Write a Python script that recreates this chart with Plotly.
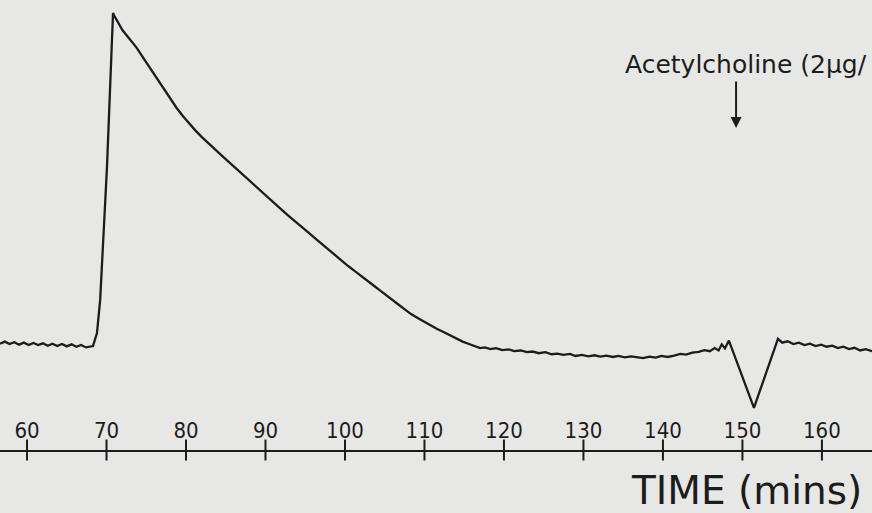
import plotly.graph_objects as go

# Time (mins) and response (% of peak, arbitrary units)
time_min = [
    56.6, 57.2, 57.8, 58.4, 59.0, 59.6, 60.2, 60.8, 61.4, 62.0, 62.6, 63.2,
    63.8, 64.4, 65.0, 65.6, 66.2, 66.8, 67.4, 68.0,
    68.3, 68.8, 69.2, 70.06, 70.82,
    71.0, 71.4, 72.0, 72.6, 73.2, 73.8, 74.5, 75.2, 75.9, 76.6, 77.3, 78.0,
    78.8, 79.6, 80.4, 81.2, 82.0, 82.8, 83.6, 84.4, 85.2, 86.0, 86.8, 87.6,
    88.4, 89.2, 90.0, 90.8, 91.6, 92.4, 93.2, 94.0, 94.8, 95.6, 96.4, 97.2,
    98.0, 98.8, 99.6, 100.4, 101.2, 102.0, 102.8, 103.6, 104.4, 105.2, 106.0,
    106.8, 107.6, 108.4, 109.2, 110.0, 110.8, 111.6, 112.4, 113.2, 114.0,
    114.8, 115.6, 116.4, 117.0, 117.6, 118.3, 119.0, 119.8, 120.6, 121.3,
    122.1, 122.9, 123.6, 124.4, 125.2, 126.0, 126.7, 127.5, 128.3, 129.0,
    129.8, 130.6, 131.4, 132.1, 132.9, 133.7, 134.4, 135.2, 136.0, 136.8,
    137.5, 138.3, 139.1, 139.8, 140.6, 141.4, 142.2, 142.9, 143.7, 144.5,
    145.2, 145.9, 146.5, 147.0, 147.4, 147.8, 148.3,
    151.45, 154.47,
    155.0, 155.7, 156.4, 157.1, 157.8, 158.5, 159.2, 159.9, 160.6, 161.3,
    162.0, 162.7, 163.4, 164.1, 164.8, 165.5, 166.3,
]
response = [
    3.3, 3.9, 3.2, 3.7, 3.0, 3.6, 2.9, 3.5, 2.9, 3.4, 2.7, 3.3,
    2.6, 3.2, 2.5, 3.1, 2.4, 2.9, 2.2, 2.6,
    2.6, 6.4, 16.1, 55.0, 100.0,
    99.1, 97.4, 95.0, 93.3, 91.5, 89.8, 87.3, 84.9, 82.5, 80.0, 77.5, 75.0,
    72.3, 69.9, 67.7, 65.6, 63.7, 61.9, 60.2, 58.5, 56.8, 55.1, 53.4, 51.7,
    50.0, 48.3, 46.6, 44.9, 43.3, 41.7, 40.1, 38.6, 37.0, 35.4, 33.8, 32.2,
    30.7, 29.1, 27.5, 26.0, 24.6, 23.1, 21.8, 20.3, 18.9, 17.4, 15.9,
    14.6, 13.2, 11.8, 10.7, 9.6, 8.6, 7.6, 6.7, 5.7, 4.8,
    3.9, 3.2, 2.5, 2.0, 2.2, 1.7, 2.0, 1.4, 1.6, 1.1,
    1.3, 0.8, 1.0, 0.5, 0.8, 0.2, 0.4, 0.0, 0.3, -0.3,
    0.0, -0.4, -0.1, -0.5, -0.2, -0.6, -0.3, -0.7, -0.4, -0.6,
    -0.9, -0.5, -0.8, -0.3, -0.6, -0.2, 0.3, 0.1, 0.7, 0.9,
    1.4, 1.1, 2.0, 1.3, 3.1, 1.9, 4.2,
    -15.5, 4.7,
    3.6, 4.0, 3.2, 3.6, 2.9, 3.3, 2.6, 3.0, 2.4, 2.7,
    2.0, 2.4, 1.7, 2.1, 1.3, 1.7, 1.1,
]

tick_vals = [60, 70, 80, 90, 100, 110, 120, 130, 140, 150, 160]
tick_text = [str(v) for v in tick_vals]

x_range = [56.6, 166.3]
y_range = [-27.8, 103.8]

x_label = "TIME (mins)"
drug_label = "Acetylcholine (2μg/"
drug_time = 149.2
arrow_tip = 66.4

ink = "#1c1c1c"
paper = "#e7e7e6"
narrow = "DejaVu Sans Condensed, DejaVu Sans, sans-serif"
wide = "DejaVu Sans, sans-serif"

fig = go.Figure()
fig.add_trace(go.Scatter(
    x=time_min, y=response, mode="lines",
    line=dict(color=ink, width=2.3), showlegend=False, hoverinfo="skip",
))
# tick marks crossing the time axis
fig.add_trace(go.Scatter(
    x=tick_vals, y=[y_range[0]] * len(tick_vals), mode="markers",
    marker=dict(symbol="line-ns", size=15, line=dict(color=ink, width=2)),
    cliponaxis=False, showlegend=False, hoverinfo="skip",
))

fig.update_layout(
    width=872, height=513,
    margin=dict(l=0, r=0, t=0, b=63),
    paper_bgcolor=paper, plot_bgcolor=paper,
    font=dict(family=narrow, color=ink),
    xaxis=dict(
        range=x_range, showgrid=False, zeroline=False,
        showline=True, linecolor=ink, linewidth=2,
        ticks="", tickvals=tick_vals, ticktext=tick_text,
        ticklabelposition="inside", ticklabelstandoff=9,
        tickfont=dict(size=22, color=ink, family=narrow),
        fixedrange=True,
    ),
    yaxis=dict(range=y_range, visible=False, fixedrange=True),
    annotations=[
        dict(text=x_label, xref="paper", yref="paper", x=0.991, y=-0.091,
             xanchor="right", yanchor="middle", showarrow=False,
             font=dict(size=39, color=ink, family=wide)),
        dict(text=drug_label, xref="paper", yref="paper", x=623 / 872,
             y=1 - 64 / 450, xanchor="left", yanchor="middle", showarrow=False,
             font=dict(size=25, color=ink, family=wide)),
        dict(text="", x=drug_time, y=arrow_tip, xref="x", yref="y",
             showarrow=True, ax=0, ay=-48, arrowhead=2, arrowsize=1.1,
             arrowwidth=2, arrowcolor=ink),
    ],
)

fig.write_html("out.html")
